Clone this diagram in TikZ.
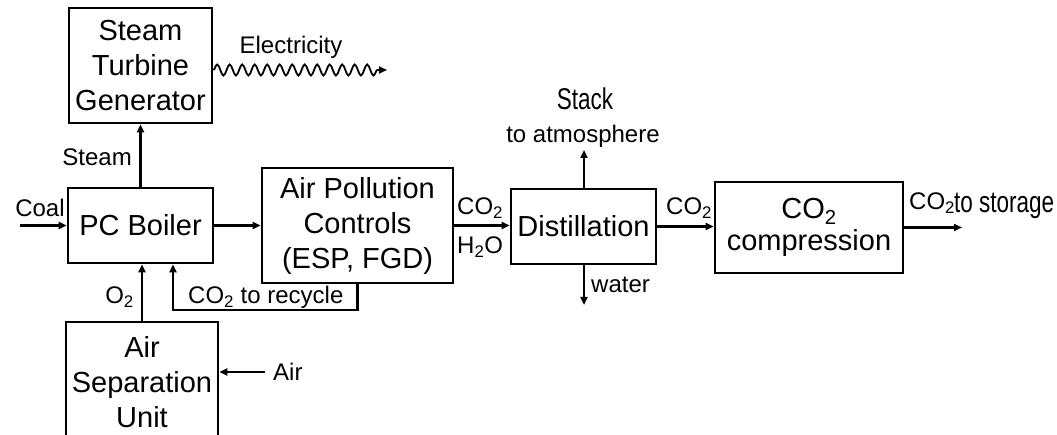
\documentclass[tikz,border=0pt]{standalone}
\usepackage{fontspec}
\setmainfont{Liberation Sans}
\usetikzlibrary{positioning,arrows.meta,decorations.pathmorphing}

\newcommand{\co}{CO\textsubscript{2}}
\newcommand{\narrowtext}[1]{\scalebox{0.75}[1]{#1}}

\begin{document}
\begin{tikzpicture}[
    x=1pt, y=-1pt,
    block/.style={draw, line width=2.6pt, inner sep=0pt, align=center, font=\fontsize{29}{35}\selectfont},
    lbl/.style={inner sep=0pt, font=\fontsize{24}{28}\selectfont},
    bigl/.style={inner sep=0pt, font=\fontsize{30}{34}\selectfont},
    flow/.style={line width=2.2pt, -{Triangle[length=8pt,width=7pt]}},
    wave/.style={line width=1.8pt, -{Triangle[length=8pt,width=7pt]}, decorate,
        decoration={snake, amplitude=5.5pt, segment length=12.5pt, post length=9pt}}
]
\clip (0,0) rectangle (1057,435);
\useasboundingbox (0,0) rectangle (1057,435);

% Blocks
\node[block, minimum width=143pt, minimum height=115pt] (stg) at (140.5,65.5) {Steam\\Turbine\\Generator};
\node[block, minimum width=145pt, minimum height=75pt] (boiler) at (140.5,225.5) {PC Boiler};
\node[block, minimum width=191pt, minimum height=115pt] (apc) at (357.5,225.5) {Air Pollution\\Controls\\(ESP, FGD)};
\node[block, minimum width=152pt, minimum height=120pt] (asu) at (142,382) {Air\\Separation\\Unit};
\node[block, minimum width=145pt, minimum height=75pt] (dist) at (583.5,226.5) {Distillation};
\node[block, minimum width=188pt, minimum height=91pt, font=\fontsize{29}{32}\selectfont] (comp) at (809,227.5) {\co\\compression};

% Free ends
\coordinate (coalin) at (20,225.5);
\coordinate (elec) at (387,70);
\coordinate (airin) at (265,372);
\coordinate (rc) at (173,310);
\coordinate (stack) at (584,150);
\coordinate (water) at (584,305);
\coordinate (storage) at (962,227.5);

% Streams
\draw[flow] (coalin) -- (boiler.west);
\draw[flow] (boiler.north) -- (stg.south);
\draw[wave] (stg.east |- elec) -- (elec);
\draw[flow] (boiler.east) -- (apc.west);
\draw[flow] (asu.north) -- (asu.north |- boiler.south);
\draw[flow] (apc.south) |- (rc) -- (rc |- boiler.south);
\draw[flow] (airin) -- (airin -| asu.east);
\draw[flow] (apc.east) -- (apc.east -| dist.west);
\draw[flow] (dist.north -| stack) -- (stack);
\draw[flow] (dist.south -| water) -- (water);
\draw[flow] (dist.east) -- (dist.east -| comp.west);
\draw[flow] (comp.east) -- (storage);

% Labels
\node[lbl] (electxt) at (291,47) {Electricity};
\node[lbl, anchor=east] (steamtxt) at (132,157) {Steam};
\node[lbl] (coaltxt) at (40,208) {Coal};
\node[lbl, anchor=base east] (o2txt) at (134,304) {O\textsubscript{2}};
\node[lbl, anchor=base west] (rectxt) at (188,304) {\co{} to recycle};
\node[lbl, anchor=base west] (airtxt) at (273,380) {Air};
\node[lbl, anchor=base west] (co2a) at (457,215) {\co};
\node[lbl, anchor=base west] (h2o) at (457,254) {H\textsubscript{2}O};
\node[lbl, anchor=base] (atmtxt) at (583,143) {to atmosphere};
\node[bigl, anchor=base] (stacktxt) at (585,110) {\narrowtext{Stack}};
\node[lbl, anchor=base west] (watertxt) at (591,293) {water};
\node[lbl, anchor=base west] (co2b) at (666,215) {\co};
\node[lbl, anchor=base west] (co2c) at (909,210) {\co};
\node[bigl, anchor=base west] (storetxt) at (954,213) {\narrowtext{to storage}};

\end{tikzpicture}
\end{document}
